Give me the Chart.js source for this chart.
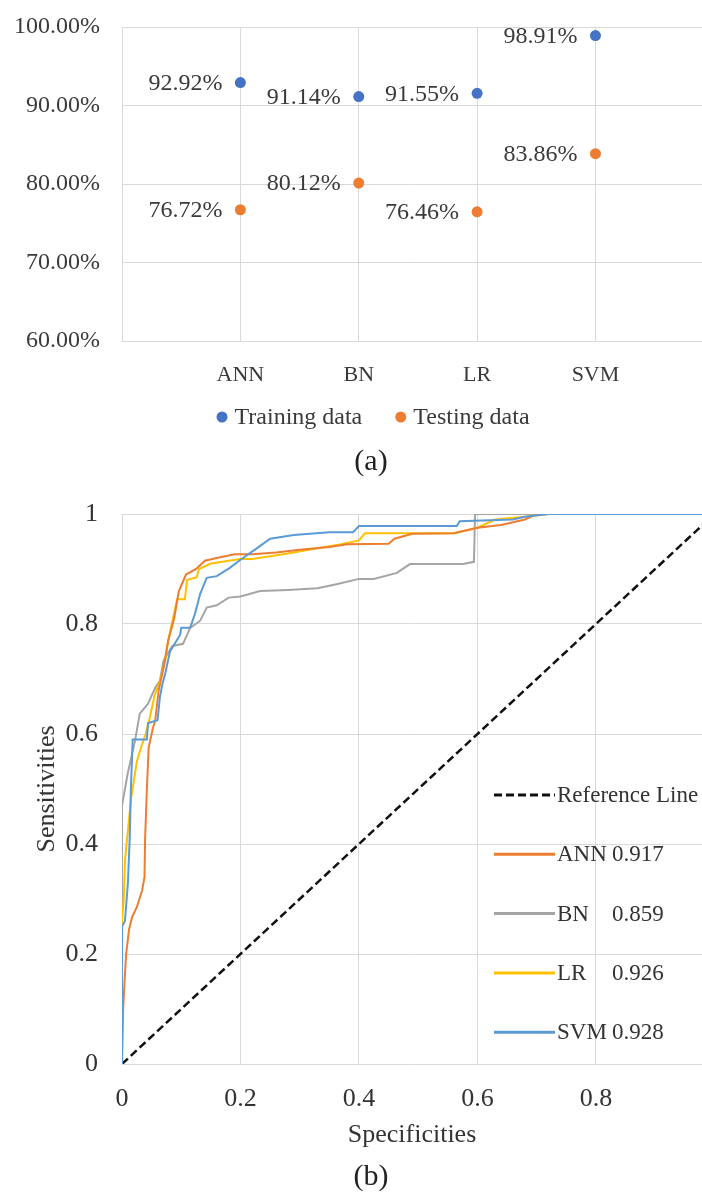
<!DOCTYPE html>
<html>
<head>
<meta charset="utf-8">
<script src="https://cdn.jsdelivr.net/npm/chart.js@4.4.0/dist/chart.umd.min.js"></script>
<style>
html,body{margin:0;padding:0;background:#fff;width:702px;height:1192px;overflow:hidden;position:relative}
#wa{position:absolute;left:0;top:0;width:702px;height:490px;overflow:hidden}
#wb{position:absolute;left:0;top:490px;width:702px;height:702px;overflow:hidden}
canvas{display:block}
</style>
</head>
<body>
<div id="wa"><canvas id="ca" width="702" height="490"></canvas></div>
<div id="wb"><canvas id="cb" width="702" height="702"></canvas></div>
<script>
// ---------- data: panel (a) ----------
const categories = ['ANN', 'BN', 'LR', 'SVM'];
const trainingAcc = [92.92, 91.14, 91.55, 98.91];
const testingAcc = [76.72, 80.12, 76.46, 83.86];
const accTicks = [60, 70, 80, 90, 100];

// ---------- data: panel (b) ROC curves [x = specificities axis value, y = sensitivity] ----------
const rocReference = [[0, 0], [1, 1]];
const rocANN = [[0,0],[0.002,0.1],[0.005,0.165],[0.007,0.2],[0.012,0.245],[0.017,0.267],[0.025,0.285],[0.034,0.316],[0.038,0.34],[0.039,0.41],[0.042,0.5],[0.045,0.575],[0.052,0.61],[0.056,0.624],[0.062,0.68],[0.07,0.72],[0.078,0.77],[0.088,0.81],[0.096,0.86],[0.108,0.89],[0.125,0.9],[0.14,0.915],[0.16,0.92],[0.19,0.927],[0.22,0.927],[0.26,0.93],[0.3,0.935],[0.35,0.94],[0.38,0.945],[0.45,0.946],[0.46,0.955],[0.49,0.964],[0.56,0.965],[0.6,0.975],[0.64,0.98],[0.68,0.99],[0.7,1],[1,1]];
const rocBN = [[0,0],[0,0.47],[0.01,0.53],[0.022,0.588],[0.03,0.637],[0.044,0.655],[0.056,0.684],[0.064,0.697],[0.07,0.733],[0.085,0.76],[0.103,0.764],[0.115,0.793],[0.132,0.806],[0.143,0.83],[0.16,0.834],[0.18,0.848],[0.2,0.85],[0.233,0.86],[0.28,0.862],[0.33,0.865],[0.36,0.872],[0.4,0.882],[0.425,0.882],[0.464,0.893],[0.486,0.909],[0.576,0.909],[0.594,0.913],[0.596,1],[1,1]];
const rocLR = [[0,0],[0,0.26],[0.003,0.3],[0.005,0.37],[0.015,0.48],[0.025,0.55],[0.032,0.575],[0.04,0.6],[0.047,0.63],[0.055,0.67],[0.065,0.7],[0.073,0.733],[0.078,0.77],[0.086,0.81],[0.093,0.845],[0.106,0.845],[0.11,0.88],[0.126,0.885],[0.13,0.9],[0.15,0.91],[0.2,0.918],[0.22,0.918],[0.28,0.928],[0.32,0.936],[0.37,0.945],[0.4,0.952],[0.41,0.965],[0.56,0.965],[0.6,0.975],[0.63,0.99],[0.68,0.995],[0.72,1],[1,1]];
const rocSVM = [[0,0],[0,0.25],[0.005,0.26],[0.01,0.33],[0.013,0.41],[0.015,0.5],[0.018,0.59],[0.042,0.59],[0.044,0.62],[0.06,0.625],[0.064,0.667],[0.068,0.69],[0.073,0.71],[0.081,0.75],[0.098,0.78],[0.1,0.793],[0.115,0.793],[0.123,0.818],[0.132,0.855],[0.143,0.884],[0.16,0.887],[0.182,0.902],[0.204,0.92],[0.228,0.938],[0.25,0.955],[0.29,0.962],[0.35,0.967],[0.39,0.967],[0.4,0.978],[0.565,0.978],[0.57,0.987],[0.66,0.99],[0.68,0.995],[0.72,1],[1,1]];
const rocNames = ['ANN', 'BN', 'LR', 'SVM'];
const rocAUC = [0.917, 0.859, 0.926, 0.928];
const specTicks = [0, 0.2, 0.4, 0.6, 0.8];
const sensTicks = [0, 0.2, 0.4, 0.6, 0.8, 1];

// ---------- styling ----------
const SERIF = "'Liberation Serif','Times New Roman',serif";
const TXT = '#3a3a3a';
const TXT2 = '#333333';
const GRID = '#D9D9D9';
Chart.defaults.font.family = SERIF;

const toPts = arr => arr.map(p => ({x: p[0], y: p[1]}));
const fixV = w => s => { s.width = w; s.paddingTop = 0; s.paddingBottom = 0; };
const fixH = h => s => { s.height = h; s.paddingLeft = 0; s.paddingRight = 0; };

// ---------- plugins ----------
const pctLabels = {
  id: 'pctLabels',
  afterDatasetsDraw(chart, args, o) {
    const ctx = chart.ctx;
    ctx.save();
    ctx.font = o.size + 'px ' + SERIF;
    ctx.fillStyle = TXT;
    ctx.textAlign = 'right';
    ctx.textBaseline = 'middle';
    chart.data.datasets.forEach((ds, di) => {
      chart.getDatasetMeta(di).data.forEach((pt, i) => {
        ctx.fillText(ds.data[i].y.toFixed(2) + '%', pt.x - o.gap, pt.y + 1);
      });
    });
    ctx.restore();
  }
};

const dotLegend = {
  id: 'dotLegend',
  afterDraw(chart, args, o) {
    const ctx = chart.ctx;
    ctx.save();
    ctx.font = o.size + 'px ' + SERIF;
    ctx.textBaseline = 'middle';
    ctx.textAlign = 'left';
    let x = o.x;
    chart.data.datasets.forEach(ds => {
      ctx.fillStyle = ds.backgroundColor;
      ctx.beginPath();
      ctx.arc(x + o.r, o.y, o.r, 0, Math.PI * 2);
      ctx.fill();
      ctx.fillStyle = TXT;
      const tx = x + o.r * 2 + o.textGap;
      ctx.fillText(ds.label, tx, o.y + 1);
      x = tx + ctx.measureText(ds.label).width + o.gap;
    });
    ctx.restore();
  }
};

const caption = {
  id: 'caption',
  afterDraw(chart, args, o) {
    const ctx = chart.ctx;
    ctx.save();
    ctx.font = o.size + 'px ' + SERIF;
    ctx.fillStyle = '#222';
    ctx.textAlign = 'center';
    ctx.textBaseline = 'middle';
    ctx.fillText(o.text, o.x, o.y);
    ctx.restore();
  }
};

const rocLegend = {
  id: 'rocLegend',
  afterDraw(chart, args, o) {
    const ctx = chart.ctx;
    ctx.save();
    ctx.font = o.size + 'px ' + SERIF;
    ctx.textBaseline = 'middle';
    ctx.textAlign = 'left';
    chart.data.datasets.forEach((ds, k) => {
      const y = o.y0 + k * o.dy;
      ctx.strokeStyle = ds.borderColor;
      ctx.lineWidth = o.lw;
      ctx.setLineDash(ds.borderDash || []);
      ctx.beginPath();
      ctx.moveTo(o.x0, y);
      ctx.lineTo(o.x1, y);
      ctx.stroke();
      ctx.setLineDash([]);
      ctx.fillStyle = TXT2;
      if (k === 0) {
        ctx.fillText(ds.label, o.x1 + 2, y + 1);
      } else {
        ctx.fillText(rocNames[k - 1], o.x1 + 2, y + 1);
        ctx.fillText(rocAUC[k - 1].toFixed(3), o.valueX, y + 1);
      }
    });
    ctx.restore();
  }
};

// ---------- panel (a) ----------
new Chart(document.getElementById('ca'), {
  type: 'scatter',
  data: {
    datasets: [
      {label: 'Training data', data: categories.map((c, i) => ({x: i + 1, y: trainingAcc[i]})),
       backgroundColor: '#4472C4', borderColor: '#4472C4', pointRadius: 5.5, pointBorderWidth: 0},
      {label: 'Testing data', data: categories.map((c, i) => ({x: i + 1, y: testingAcc[i]})),
       backgroundColor: '#ED7D31', borderColor: '#ED7D31', pointRadius: 5.5, pointBorderWidth: 0}
    ]
  },
  options: {
    responsive: false, animation: false, devicePixelRatio: 1,
    layout: {autoPadding: false, padding: {top: 27, left: 0, right: 0, bottom: 0}},
    plugins: {
      legend: {display: false}, tooltip: {enabled: false},
      pctLabels: {size: 24, gap: 18},
      dotLegend: {x: 216.5, y: 417, r: 5.5, size: 24, textGap: 7, gap: 33},
      caption: {text: '(a)', x: 371, y: 462, size: 30}
    },
    scales: {
      x: {
        type: 'linear', min: 0, max: 4.9,
        afterBuildTicks: s => { s.ticks = [0].concat(categories.map((c, i) => i + 1)).map(v => ({value: v})); },
        afterFit: fixH(149),
        grid: {color: GRID, lineWidth: 1, drawTicks: false},
        border: {color: GRID, width: 1},
        ticks: {padding: 21, autoSkip: false, maxRotation: 0, color: TXT, font: {size: 22, family: SERIF},
                callback: v => (v >= 1 ? categories[v - 1] : '')}
      },
      y: {
        min: 60, max: 100,
        afterBuildTicks: s => { s.ticks = accTicks.map(v => ({value: v})); },
        afterFit: fixV(122),
        grid: {color: GRID, lineWidth: 1, drawTicks: false},
        border: {color: GRID, width: 1},
        ticks: {padding: 22, color: TXT, font: {size: 24, family: SERIF}, callback: v => v.toFixed(2) + '%'}
      }
    }
  },
  plugins: [pctLabels, dotLegend, caption]
});

// ---------- panel (b) ----------
new Chart(document.getElementById('cb'), {
  type: 'scatter',
  data: {
    datasets: [
      {label: 'Reference Line', data: toPts(rocReference), showLine: true, borderColor: '#111111',
       borderWidth: 2.5, borderDash: [8, 4], pointRadius: 0, order: 4},
      {label: 'ANN 0.917', data: toPts(rocANN), showLine: true, borderColor: '#ED7D31', borderWidth: 2, pointRadius: 0, order: 1},
      {label: 'BN 0.859', data: toPts(rocBN), showLine: true, borderColor: '#A5A5A5', borderWidth: 2, pointRadius: 0, order: 3},
      {label: 'LR 0.926', data: toPts(rocLR), showLine: true, borderColor: '#FFC000', borderWidth: 2, pointRadius: 0, order: 2},
      {label: 'SVM 0.928', data: toPts(rocSVM), showLine: true, borderColor: '#5B9BD5', borderWidth: 2, pointRadius: 0, order: 0}
    ]
  },
  options: {
    responsive: false, animation: false, devicePixelRatio: 1,
    layout: {autoPadding: false, padding: {top: 24, left: 0, right: 0, bottom: 0}},
    plugins: {
      legend: {display: false}, tooltip: {enabled: false},
      rocLegend: {x0: 494, x1: 555, y0: 305, dy: 59.3, lw: 3, size: 23, valueX: 612},
      caption: {text: '(b)', x: 371, y: 687, size: 30}
    },
    scales: {
      x: {
        type: 'linear', min: 0, max: 0.979,
        afterBuildTicks: s => { s.ticks = specTicks.map(v => ({value: v})); },
        afterFit: fixH(128),
        grid: {color: GRID, lineWidth: 1, drawTicks: false},
        border: {color: GRID, width: 1},
        ticks: {padding: 20, autoSkip: false, maxRotation: 0, color: TXT2, font: {size: 26, family: SERIF},
                callback: v => String(v)},
        title: {display: true, text: 'Specificities', color: TXT2, font: {size: 26, family: SERIF},
                padding: {top: 0, bottom: 41}}
      },
      y: {
        min: 0, max: 1,
        afterBuildTicks: s => { s.ticks = sensTicks.map(v => ({value: v})); },
        afterFit: fixV(122),
        grid: {color: GRID, lineWidth: 1, drawTicks: false},
        border: {color: GRID, width: 1},
        ticks: {padding: 24, color: TXT2, font: {size: 26, family: SERIF}, callback: v => String(v)},
        title: {display: true, text: 'Sensitivities', color: TXT2, font: {size: 26, family: SERIF},
                padding: {top: 32, bottom: 0}}
      }
    }
  },
  plugins: [rocLegend, caption]
});
</script>
</body>
</html>
